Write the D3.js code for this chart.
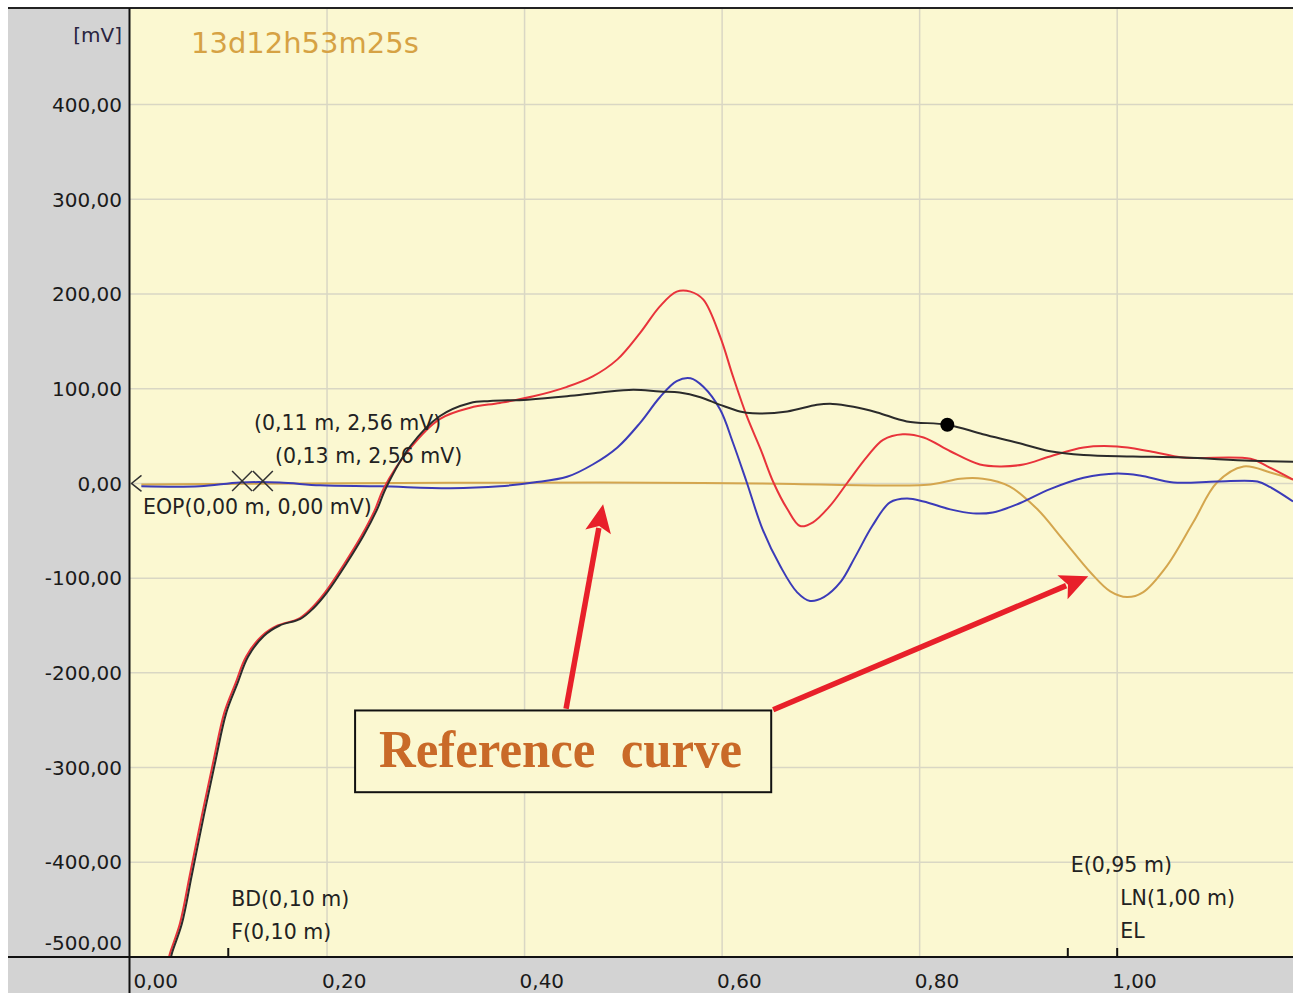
<!DOCTYPE html>
<html><head><meta charset="utf-8">
<script src="https://cdn.jsdelivr.net/npm/d3@7"></script>
<style>body{margin:0;background:#fff}svg{display:block}</style>
</head><body>
<svg id="c" width="1293" height="993"></svg>
<script>
// ---- data (x in m, y in mV) ----
const xTicks = [0, 0.2, 0.4, 0.6, 0.8, 1.0];
const yTicks = [-500, -400, -300, -200, -100, 0, 100, 200, 300, 400];
const blackX = [0.041,0.043,0.053,0.063,0.075,0.087,0.098,0.109,0.120,0.136,0.152,0.173,0.186,0.200,0.220,0.237,0.250,0.260,0.284,0.314,0.345,0.365,0.403,0.443,0.477,0.510,0.537,0.557,0.578,0.598,0.618,0.631,0.666,0.696,0.712,0.733,0.757,0.787,0.828,0.864,0.899,0.932,0.966,1.016,1.067,1.135,1.178];
const blackY = [-505,-496,-465,-414,-352,-293,-242,-212,-183,-161,-150,-143,-132,-115,-84,-55,-29,-4,39,71,85,87,88.5,92,96,99,97,96,91,83,76,74,76,83,84,81,75,65.5,62,52,43,34,30,28.5,27.4,24,23];
const redX = [0.039,0.041,0.051,0.061,0.073,0.085,0.096,0.107,0.118,0.134,0.150,0.171,0.184,0.198,0.218,0.235,0.248,0.257,0.284,0.314,0.345,0.375,0.409,0.443,0.469,0.494,0.517,0.537,0.554,0.568,0.581,0.598,0.611,0.625,0.639,0.652,0.666,0.679,0.692,0.709,0.727,0.747,0.763,0.783,0.804,0.831,0.861,0.882,0.905,0.932,0.966,1.000,1.033,1.067,1.135,1.152,1.178];
const redY = [-505,-496,-465,-414,-352,-293,-242,-212,-183,-161,-150,-143,-132,-115,-84,-55,-29,-6,37,68,80,85,92,102,113,131,159,187,202.5,202.5,194,155,113,71,36,1,-27,-45,-41,-24,1,28.5,46,52,48.5,34,20,18,20,28.5,38,39,34,27.4,26,18,4];
const blueX = [0.012,0.071,0.112,0.152,0.193,0.254,0.325,0.375,0.409,0.443,0.469,0.494,0.517,0.537,0.554,0.568,0.581,0.598,0.611,0.625,0.641,0.659,0.676,0.689,0.703,0.720,0.735,0.752,0.770,0.787,0.804,0.831,0.854,0.874,0.899,0.932,0.966,1.000,1.023,1.057,1.101,1.142,1.155,1.178];
const blueY = [-3,-3,1,1,-2,-3,-5,-3,1,7,20,38,64,91,108,111,102,78,43,1,-48.5,-87.5,-115,-124,-120,-104,-77,-45,-20,-16,-19,-27.4,-31.6,-30.6,-22,-6,6,10.5,8.4,1,2,2,-4,-19];
const goldX = [0.012,0.172,0.477,0.638,0.811,0.841,0.864,0.891,0.919,0.945,0.973,0.993,1.010,1.026,1.050,1.077,1.101,1.128,1.155,1.178];
const goldY = [-1,0,1,0,-1,5,5,-3,-27,-59,-94,-114,-120,-115,-87.5,-41,1,18,11.6,4];
const cursorX = [0.114, 0.135];
const cursorMV = 2.56;
const dotPoint = [0.828, 62];
const cursorLabels = ["(0,11 m, 2,56 mV)", "(0,13 m, 2,56 mV)"];
const eopLabel = "EOP(0,00 m, 0,00 mV)";
const eventTicks = [0.10, 0.95, 1.00];
const eventLabels = [
  {x:0.1, lines:["BD(0,10 m)","F(0,10 m)"]},
  {x:0.95, lines:["E(0,95 m)"]},
  {x:1.0, lines:["LN(1,00 m)","EL"]}
];
const titleText = "13d12h53m25s";
const unitText = "[mV]";
const boxText = "Reference  curve";

// ---- layout ----
const W = 1293, H = 993;
const L = 129.5, T = 8, B = 957, R = 1293;
const x = d3.scaleLinear().domain([0, 1.178]).range([L, R]);
const y = d3.scaleLinear().domain([-500, 502]).range([B, T]);
const fmt = v => d3.format(".2f")(v).replace(".", ",").replace("−","-");

const svg = d3.select("#c");
const FONT = "'DejaVu Sans', Verdana, sans-serif";

// gray frame
svg.append("rect").attr("x",8).attr("y",T).attr("width",W-8).attr("height",H-T).attr("fill","#d3d3d3");
svg.append("rect").attr("x",L).attr("y",T).attr("width",R-L).attr("height",B-T).attr("fill","#fbf8d1");

// grid
const g = svg.append("g");
g.selectAll("line.v").data(xTicks.filter(d=>d>0)).join("line")
  .attr("x1",d=>x(d)).attr("x2",d=>x(d)).attr("y1",T).attr("y2",B)
  .attr("stroke","#d9d7c4").attr("stroke-width",1.5);
g.selectAll("line.h").data(yTicks.filter(d=>d>-500)).join("line")
  .attr("y1",d=>y(d)).attr("y2",d=>y(d)).attr("x1",L).attr("x2",R)
  .attr("stroke","#d9d7c4").attr("stroke-width",1.5);

// axes lines
svg.append("line").attr("x1",8).attr("x2",W).attr("y1",T).attr("y2",T).attr("stroke","#222").attr("stroke-width",2);
svg.append("line").attr("x1",L).attr("x2",L).attr("y1",T).attr("y2",H).attr("stroke","#111").attr("stroke-width",2);
svg.append("line").attr("x1",8).attr("x2",W).attr("y1",B).attr("y2",B).attr("stroke","#111").attr("stroke-width",2);

// y labels
svg.selectAll("text.yl").data(yTicks).join("text")
  .attr("x",122).attr("y",d=>Math.min(y(d), B-14)).attr("dy","0.36em")
  .attr("text-anchor","end").attr("font-family",FONT).attr("font-size",20).attr("fill","#1a1a1a")
  .text(d=>fmt(d));
// x labels
svg.selectAll("text.xl").data(xTicks).join("text")
  .attr("x",d=>Math.max(x(d)-5, L+4)).attr("y",988)
  .attr("font-family",FONT).attr("font-size",20).attr("fill","#1a1a1a")
  .text(d=>fmt(d));

svg.append("text").attr("x",122).attr("y",42).attr("text-anchor","end")
  .attr("font-family",FONT).attr("font-size",20).attr("fill","#2a2440").text(unitText);
svg.append("text").attr("x",191).attr("y",53)
  .attr("font-family",FONT).attr("font-size",29).attr("fill","#d6a244").text(titleText);

// clip
svg.append("clipPath").attr("id","pc").append("rect").attr("x",L+1).attr("y",T+1).attr("width",R-L).attr("height",B-T-2);
const plot = svg.append("g").attr("clip-path","url(#pc)");

const line = d3.line().x(d=>x(d[0])).y(d=>y(d[1])).curve(d3.curveCatmullRom.alpha(0.5));
const zip = (a,b)=>a.map((v,i)=>[v,b[i]]);
plot.append("path").attr("d",line(zip(goldX,goldY))).attr("fill","none").attr("stroke","#d4a64e").attr("stroke-width",2);
plot.append("path").attr("d",line(zip(blueX,blueY))).attr("fill","none").attr("stroke","#3b3bb8").attr("stroke-width",2);
plot.append("path").attr("d",line(zip(redX,redY))).attr("fill","none").attr("stroke","#e8333b").attr("stroke-width",2);
plot.append("path").attr("d",line(zip(blackX,blackY))).attr("fill","none").attr("stroke","#2b2b2b").attr("stroke-width",2);

// dot
plot.append("circle").attr("cx",x(dotPoint[0])).attr("cy",y(dotPoint[1])).attr("r",7).attr("fill","#000");

// cursor X marks
cursorX.forEach(cx=>{
  const px=x(cx), py=y(cursorMV);
  plot.append("path").attr("d",`M${px-10},${py-10}L${px+10},${py+10}M${px-10},${py+10}L${px+10},${py-10}`)
    .attr("stroke","#333").attr("stroke-width",1.5).attr("fill","none");
});
// EOP chevron
{
  const px=x(0)+2, py=y(0);
  plot.append("path").attr("d",`M${px+10},${py-8}L${px},${py}L${px+10},${py+8}`)
    .attr("stroke","#333").attr("stroke-width",1.5).attr("fill","none");
}
// annotation texts
const TC = "#222";
svg.append("text").attr("x",254).attr("y",430).attr("font-family",FONT).attr("font-size",20.5).attr("fill",TC).text(cursorLabels[0]);
svg.append("text").attr("x",275).attr("y",463).attr("font-family",FONT).attr("font-size",20.5).attr("fill",TC).text(cursorLabels[1]);
svg.append("text").attr("x",143).attr("y",514).attr("font-family",FONT).attr("font-size",20.5).attr("fill",TC).text(eopLabel);

// event ticks
svg.selectAll("line.ev").data(eventTicks).join("line")
  .attr("x1",d=>x(d)).attr("x2",d=>x(d)).attr("y1",B-9).attr("y2",B)
  .attr("stroke","#111").attr("stroke-width",2);
const evBase = {0.1:[906,939], 0.95:[872], 1.0:[905,938]};
eventLabels.forEach(e=>{
  e.lines.forEach((t,i)=>{
    svg.append("text").attr("x",x(e.x)+3).attr("y",evBase[e.x][i])
      .attr("font-family",FONT).attr("font-size",20.5).attr("fill",TC).text(t);
  });
});

// reference box + arrows (in data units)
const box = {x0:0.2284, x1:0.6497, y0:-239.7, y1:-326};
svg.append("rect").attr("x",x(box.x0)).attr("y",y(box.y0)).attr("width",x(box.x1)-x(box.x0)).attr("height",y(box.y1)-y(box.y0))
  .attr("fill","#fbf8d1").attr("stroke","#111").attr("stroke-width",2);
svg.append("text").attr("x",x(box.x0)+24).attr("y",y(box.y0)+57)
  .attr("font-family","'Liberation Serif','DejaVu Serif',serif").attr("font-weight","bold").attr("font-size",52)
  .attr("fill","#c96a28").attr("textLength",363).attr("lengthAdjust","spacingAndGlyphs")
  .attr("xml:space","preserve").style("white-space","pre").text(boxText);

const arrows = [
  {from:[0.442,-238], to:[0.4795,-22]},
  {from:[0.6517,-239], to:[0.9707,-98]}
];
arrows.forEach(a=>{
  const x1=x(a.from[0]), y1=y(a.from[1]), x2=x(a.to[0]), y2=y(a.to[1]);
  const ang=Math.atan2(y2-y1,x2-x1), hl=28, hw=13;
  const bx=x2-hl*Math.cos(ang), by=y2-hl*Math.sin(ang);
  svg.append("line").attr("x1",x1).attr("y1",y1).attr("x2",bx+4*Math.cos(ang)).attr("y2",by+4*Math.sin(ang))
    .attr("stroke","#e8202a").attr("stroke-width",5.5);
  const px=-Math.sin(ang), py=Math.cos(ang);
  svg.append("path").attr("d",`M${x2},${y2}L${bx+hw*px},${by+hw*py}L${bx+6*Math.cos(ang)},${by+6*Math.sin(ang)}L${bx-hw*px},${by-hw*py}Z`)
    .attr("fill","#e8202a");
});
</script>
</body></html>
